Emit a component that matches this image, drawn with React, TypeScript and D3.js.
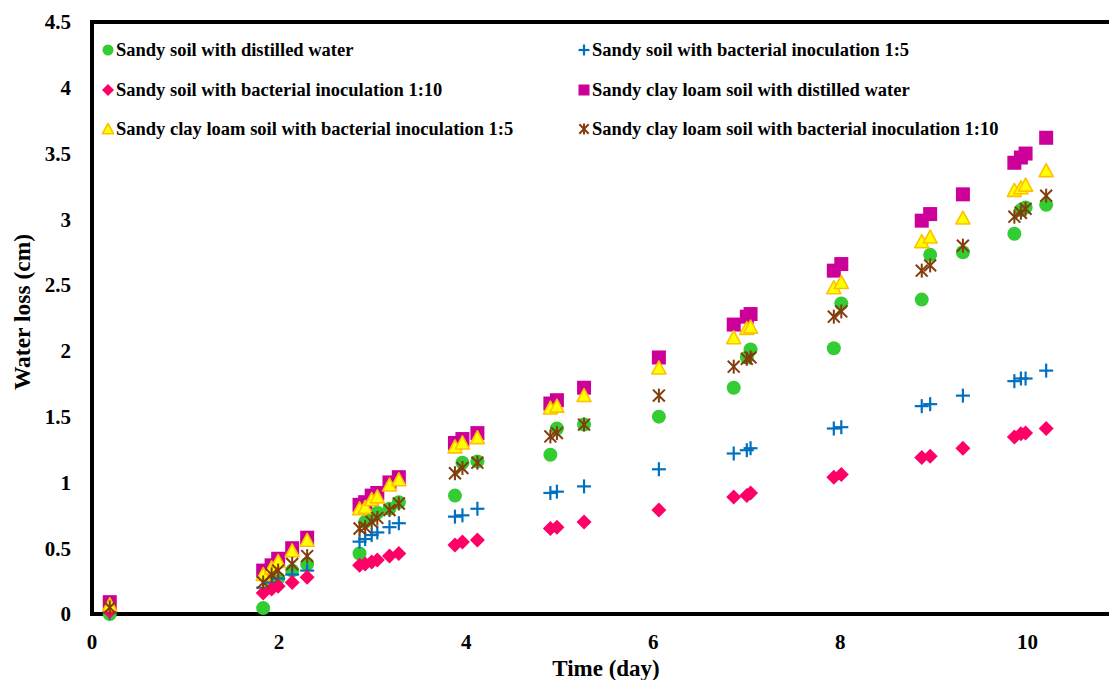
import React from "react";
import * as d3 from "d3";

const times = [0.19, 1.83, 1.92, 1.99, 2.14, 2.3, 2.86, 2.92, 2.99, 3.05, 3.18, 3.28, 3.88, 3.96, 4.12, 4.9, 4.97, 5.26, 6.06, 6.86, 7.0, 7.04, 7.93, 8.01, 8.87, 8.96, 9.31, 9.86, 9.93, 9.98, 10.2];

const sandyDistilled = [0.0, 0.045, 0.24, 0.27, 0.33, 0.38, 0.46, 0.7, 0.74, 0.77, 0.8, 0.85, 0.9, 1.15, 1.16, 1.21, 1.41, 1.44, 1.5, 1.72, 1.95, 2.01, 2.02, 2.36, 2.39, 2.73, 2.75, 2.89, 3.07, 3.09, 3.11];
const sandyInoc5 = [0.01, 0.2, 0.24, 0.27, 0.3, 0.33, 0.55, 0.57, 0.6, 0.62, 0.66, 0.69, 0.74, 0.75, 0.8, 0.92, 0.93, 0.97, 1.1, 1.22, 1.245, 1.26, 1.41, 1.42, 1.58, 1.595, 1.66, 1.77, 1.79, 1.79, 1.85];
const sandyInoc10 = [0.02, 0.16, 0.19, 0.21, 0.24, 0.28, 0.37, 0.38, 0.395, 0.41, 0.44, 0.46, 0.524, 0.547, 0.562, 0.65, 0.66, 0.7, 0.79, 0.89, 0.9, 0.92, 1.04, 1.06, 1.19, 1.2, 1.26, 1.345, 1.37, 1.375, 1.41];
const clayDistilled = [0.09, 0.33, 0.37, 0.42, 0.5, 0.58, 0.83, 0.85, 0.9, 0.92, 1.0, 1.04, 1.3, 1.33, 1.375, 1.6, 1.625, 1.72, 1.95, 2.2, 2.26, 2.28, 2.61, 2.66, 2.99, 3.04, 3.19, 3.43, 3.47, 3.5, 3.62];
const clayInoc5 = [0.07, 0.3, 0.35, 0.4, 0.48, 0.56, 0.8, 0.81, 0.87, 0.89, 0.98, 1.02, 1.27, 1.3, 1.34, 1.565, 1.58, 1.66, 1.87, 2.1, 2.17, 2.18, 2.48, 2.52, 2.83, 2.865, 3.01, 3.22, 3.24, 3.26, 3.37];
const clayInoc10 = [0.05, 0.24, 0.3, 0.33, 0.38, 0.44, 0.65, 0.66, 0.7, 0.73, 0.79, 0.84, 1.07, 1.11, 1.15, 1.35, 1.375, 1.44, 1.66, 1.88, 1.94, 1.95, 2.26, 2.3, 2.61, 2.65, 2.8, 3.02, 3.05, 3.08, 3.18];

const seriesNames = [
  "Sandy soil with distilled water",
  "Sandy soil with bacterial inoculation 1:5",
  "Sandy soil with bacterial inoculation 1:10",
  "Sandy clay loam soil with distilled water",
  "Sandy clay loam soil with bacterial inoculation 1:5",
  "Sandy clay loam soil with bacterial inoculation 1:10",
];
const seriesValues = [sandyDistilled, sandyInoc5, sandyInoc10, clayDistilled, clayInoc5, clayInoc10];
const markerKinds = ["circle", "plus", "diamond", "square", "triangle", "star"];

const xTicks = [0, 2, 4, 6, 8, 10];
const yTicks = [0, 0.5, 1, 1.5, 2, 2.5, 3, 3.5, 4, 4.5];

const FONT = "'Liberation Serif', 'Times New Roman', serif";

function Marker({ kind, x, y, s }: { kind: string; x: number; y: number; s: number }) {
  const h = s / 2;
  switch (kind) {
    case "circle":
      return <circle cx={x} cy={y} r={h} fill="#33CC33" />;
    case "diamond":
      return <path d={`M${x},${y - h - 0.5}L${x + h + 0.5},${y}L${x},${y + h + 0.5}L${x - h - 0.5},${y}Z`} fill="#FF0066" />;
    case "square":
      return <rect x={x - h} y={y - h} width={s} height={s} fill="#CC0099" />;
    case "triangle":
      return (
        <path
          d={`M${x},${y - h}L${x + h},${y + h * 0.85}L${x - h},${y + h * 0.85}Z`}
          fill="#FFFF00"
          stroke="#FFC000"
          strokeWidth={1.6}
          strokeLinejoin="round"
        />
      );
    case "plus":
      return (
        <g stroke="#0070C0" strokeWidth={2.2}>
          <line x1={x - h} y1={y} x2={x + h} y2={y} />
          <line x1={x} y1={y - h} x2={x} y2={y + h} />
        </g>
      );
    case "star": {
      const k = h * 0.85;
      return (
        <g stroke="#843C0C" strokeWidth={2}>
          <line x1={x - k} y1={y - k} x2={x + k} y2={y + k} />
          <line x1={x - k} y1={y + k} x2={x + k} y2={y - k} />
          <line x1={x} y1={y - h} x2={x} y2={y + h} />
        </g>
      );
    }
    default:
      return null;
  }
}

export default function App() {
  const W = 1109;
  const H = 680;
  const left = 92;
  const top = 22;
  const bottom = 614;
  const right = 1121;
  const x = d3.scaleLinear().domain([0, 11]).range([left, right]);
  const y = d3.scaleLinear().domain([0, 4.5]).range([bottom, top]);

  const legendPos = [
    { x: 108, y: 50 },
    { x: 584, y: 50 },
    { x: 108, y: 90 },
    { x: 584, y: 90 },
    { x: 108, y: 129 },
    { x: 584, y: 129 },
  ];

  return (
    <svg
      width={W}
      height={H}
      style={{ position: "absolute", left: 0, top: 0, display: "block", background: "#fff" }}
      fontFamily={FONT}
    >
      <rect x={0} y={0} width={W} height={H} fill="#fff" />
      <path
        d={`M${right},${top}H${left}V${bottom}H${right}`}
        fill="none"
        stroke="#000"
        strokeWidth={4}
      />
      {yTicks.map((t) => (
        <text
          key={"y" + t}
          x={71}
          y={y(t)}
          dy="0.35em"
          textAnchor="end"
          fontSize={21}
          fontWeight="bold"
          fill="#000"
        >
          {d3.format("~g")(t)}
        </text>
      ))}
      {xTicks.map((t) => (
        <text
          key={"x" + t}
          x={x(t)}
          y={649}
          textAnchor="middle"
          fontSize={21}
          fontWeight="bold"
          fill="#000"
        >
          {t}
        </text>
      ))}
      <text x={606} y={676} textAnchor="middle" fontSize={23} fontWeight="bold" fill="#000">
        Time (day)
      </text>
      <text
        transform={`translate(30,312) rotate(-90)`}
        textAnchor="middle"
        fontSize={23.5}
        fontWeight="bold"
        fill="#000"
      >
        Water loss (cm)
      </text>
      {seriesValues.map((vals, si) => (
        <g key={"s" + si}>
          {vals.map((v, i) => (
            <Marker key={i} kind={markerKinds[si]} x={x(times[i])} y={y(v)} s={14} />
          ))}
        </g>
      ))}
      {seriesNames.map((name, i) => (
        <g key={"l" + i}>
          <Marker kind={markerKinds[i]} x={legendPos[i].x} y={legendPos[i].y} s={11} />
          <text
            x={legendPos[i].x + 8}
            y={legendPos[i].y}
            dy="0.35em"
            fontSize={18.5}
            fontWeight="bold"
            fill="#000"
          >
            {name}
          </text>
        </g>
      ))}
    </svg>
  );
}
